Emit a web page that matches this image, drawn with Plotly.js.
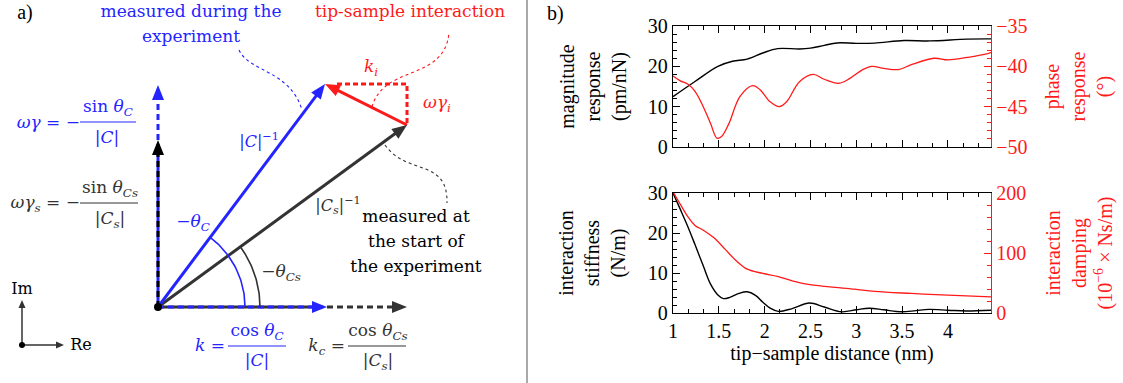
<!DOCTYPE html>
<html><head><meta charset="utf-8">
<script src="https://cdn.plot.ly/plotly-3.0.1.min.js"></script>
<style>html,body{margin:0;padding:0;background:#fff}#chart{width:1123px;height:383px}</style>
</head><body><div id="chart"></div>
<script>
// ---------- data ----------
const magX   = [1.0,1.24,1.49,1.65,1.81,1.98,2.14,2.38,2.5,2.65,2.79,3.0,3.2,3.52,3.8,4.21,4.47];
const magY   = [12.5,16.25,20,21.25,21.8,23.3,24.4,24.3,24.5,25.2,25.8,25.7,25.75,26.4,26.3,26.75,26.8];
const phaseX = [1.0,1.08,1.16,1.24,1.33,1.41,1.48,1.53,1.61,1.73,1.87,1.95,2.06,2.16,2.24,2.38,2.53,2.65,2.81,2.93,3.07,3.17,3.3,3.46,3.6,3.85,4.0,4.21,4.41,4.47];
const phaseY = [-41.2,-41.8,-42.2,-43.1,-45,-47.1,-48.9,-48.7,-47.1,-43.75,-42.4,-42.9,-44.4,-45,-44.4,-41.9,-41,-41.6,-42.1,-41.5,-40.4,-40,-40.25,-40.4,-39.8,-39,-39.2,-38.9,-38.5,-38.25];
const stiffX = [1.0,1.08,1.16,1.24,1.33,1.41,1.49,1.55,1.62,1.72,1.81,1.9,1.98,2.06,2.15,2.3,2.49,2.65,2.84,3.0,3.14,3.3,3.49,3.65,3.79,4.0,4.2,4.47];
const stiffY = [30,25.9,21.7,17.1,11.8,7.2,4.5,3.6,3.9,4.9,5.3,4.4,2.7,1.2,0.4,1.1,2.5,1.5,0.3,0.8,1.2,0.8,0.3,0.6,0.9,0.7,0.5,0.7];
const dampX  = [1.0,1.08,1.16,1.24,1.33,1.45,1.57,1.69,1.81,1.98,2.14,2.3,2.46,2.71,2.98,3.2,3.6,4.0,4.47];
const dampY  = [202,181,161,146,138,125,106,87,73,66,61,53.6,48,43.6,39.8,36,32.6,29.8,27];

// schematic vectors (diagram units, origin at the black dot)
const vecC    = [167, 223];   // |C|^-1 (blue)
const vecCs   = [249, 182];   // |Cs|^-1 (dark grey)
const kBlue   = 169, kBlack = 249;     // real-axis projections
const gBlue   = 222, gBlack = 167;     // imaginary-axis projections

// ---------- constants ----------
const W = 1123, H = 383, OX = 158, OY = 307;
const BLUE = '#2424ff', RED = '#ff1a1a', GREY = '#333333';
const SERIF = 'Liberation Serif, Times New Roman, serif';
const DSERIF = 'DejaVu Serif, serif';

const traces = [];
const shapes = [];

// ---------- panel b traces ----------
traces.push({x: magX, y: magY, xaxis:'x', yaxis:'y', mode:'lines', line:{color:'black', width:1.4, shape:'spline'}, hoverinfo:'skip'});
traces.push({x: phaseX, y: phaseY, xaxis:'x', yaxis:'y2', mode:'lines', line:{color:RED, width:1.3, shape:'spline'}, hoverinfo:'skip'});
traces.push({x: stiffX, y: stiffY, xaxis:'x2', yaxis:'y3', mode:'lines', line:{color:'black', width:1.4, shape:'spline'}, hoverinfo:'skip'});
traces.push({x: dampX, y: dampY, xaxis:'x2', yaxis:'y4', mode:'lines', line:{color:RED, width:1.3, shape:'spline'}, hoverinfo:'skip'});

// ---------- panel a helpers ----------
function seg(p0, p1, color, width, dash, shorten) {
  let [x0,y0] = p0, [x1,y1] = p1;
  if (shorten) {
    const L = Math.hypot(x1-x0, y1-y0);
    x1 = x1 - (x1-x0)/L*shorten; y1 = y1 - (y1-y0)/L*shorten;
  }
  traces.push({x:[x0,x1], y:[y0,y1], xaxis:'x3', yaxis:'y5', mode:'lines',
    line:{color, width, dash: dash || 'solid'}, hoverinfo:'skip'});
}
// filled triangular arrowhead, tip at p1, pointing along p0->p1
function head(p0, p1, color, len, hw) {
  const dx = p1[0]-p0[0], dy = p1[1]-p0[1], L = Math.hypot(dx,dy);
  const ux = dx/L, uy = dy/L;
  const bx = p1[0]-ux*len, by = p1[1]-uy*len;
  const a = [bx - uy*hw, by + ux*hw], b = [bx + uy*hw, by - ux*hw];
  shapes.push({type:'path', xref:'x3', yref:'y5', layer:'above',
    path:`M ${p1[0]},${p1[1]} L ${a[0]},${a[1]} L ${b[0]},${b[1]} Z`,
    fillcolor:color, line:{width:0}});
}
const O = [0,0];
const DASH = '6px,4px';
const HL = 15, HW = 6;

// vertical (imaginary) dashed arrows
seg(O, [0,gBlack-4], BLUE, 3);
seg(O, [0,gBlack], 'black', 3, DASH, HL-2);
seg([0,gBlack], [0,gBlue], BLUE, 3, DASH, HL-2);
head(O, [0,gBlue], BLUE, HL, HW);
head(O, [0,gBlack], 'black', HL, HW);
// horizontal (real) dashed arrows
seg(O, [kBlue-4,0], GREY, 3);
seg(O, [kBlue,0], BLUE, 3, DASH, HL-2);
seg([kBlue,0], [kBlack,0], GREY, 3, DASH, HL-2);
head(O, [kBlack,0], GREY, HL, HW);
head(O, [kBlue,0], BLUE, HL, HW);
// main vectors
seg(O, vecCs, GREY, 3, null, HL-3);  head(O, vecCs, GREY, HL, HW);
seg(O, vecC, BLUE, 3, null, HL-3);   head(O, vecC, BLUE, HL, HW);
// red dashed right-angle
traces.push({x:[vecC[0]+12, vecCs[0], vecCs[0]], y:[vecC[1], vecC[1], vecCs[1]], xaxis:'x3', yaxis:'y5',
  mode:'lines', line:{color:RED, width:3, dash:'5px,3px'}, hoverinfo:'skip'});
seg(vecCs, vecC, RED, 3, null, HL-3); head(vecCs, vecC, RED, HL, HW);
// angle arcs
function arc(r, vec, color) {
  const a1 = Math.atan2(vec[1], vec[0]); const xs=[], ys=[];
  for (let i=0;i<=40;i++){ const a=a1*i/40; xs.push(r*Math.cos(a)); ys.push(r*Math.sin(a)); }
  traces.push({x:xs, y:ys, xaxis:'x3', yaxis:'y5', mode:'lines', line:{color, width:1.6}, hoverinfo:'skip'});
}
arc(87, vecC, BLUE);
arc(102, vecCs, GREY);
// origin dot
traces.push({x:[0], y:[0], xaxis:'x3', yaxis:'y5', mode:'markers', marker:{color:'black', size:8}, hoverinfo:'skip'});
// Im / Re mini axes (pixel positions converted)
const D = (px,py) => [px-OX, OY-py];
seg(D(22,345), D(22,300), GREY, 1.5, null, 6); head(D(22,345), D(22,300), GREY, 8, 3.5);
seg(D(22,345), D(64,345), GREY, 1.5, null, 6); head(D(22,345), D(64,345), GREY, 8, 3.5);
traces.push({x:[D(22,345)[0]], y:[D(22,345)[1]], xaxis:'x3', yaxis:'y5', mode:'markers', marker:{color:'black', size:6}, hoverinfo:'skip'});

// dotted connectors
function curve(pts, color) {
  const q = pts.map(p => D(p[0],p[1]));
  shapes.push({type:'path', xref:'x3', yref:'y5',
    path:`M ${q[0][0]},${q[0][1]} C ${q[1][0]},${q[1][1]} ${q[2][0]},${q[2][1]} ${q[3][0]},${q[3][1]}`,
    line:{color, width:1.1, dash:'dot'}});
}
curve([[239,50],[249,72],[290,70],[302,110]], BLUE);
curve([[372,107],[384,64],[444,82],[449,33]], RED);
curve([[385,145],[407,176],[448,158],[447,203]], GREY);

// ---------- texts (drawn as text traces in the diagram's pixel frame) ----------
function txt(px, py, text, color, size, pos, family) {
  const p = D(px, py);
  traces.push({x:[p[0]], y:[p[1]], xaxis:'x3', yaxis:'y5', mode:'text', text:[text],
    textposition: pos || 'middle center', cliponaxis:false,
    textfont:{family: family || DSERIF, size, color}, hoverinfo:'skip'});
}
function bar(x0, x1, py, color) {
  const a = D(x0, py), b = D(x1, py);
  traces.push({x:[a[0], b[0]], y:[a[1], b[1]], xaxis:'x3', yaxis:'y5', mode:'lines', line:{color, width:1.2}, hoverinfo:'skip'});
}
txt(25, 14, 'a)', 'black', 20, null, SERIF);
txt(191, 13, 'measured during the', BLUE, 17);
txt(191, 38, 'experiment', BLUE, 17);
txt(410, 13, 'tip-sample interaction', RED, 17);
txt(371, 68, '<i>k<sub>i</sub></i>', RED, 17);
txt(437, 104, '<i>ωγ<sub>i</sub></i>', RED, 17);
txt(259, 143, '|<i>C</i>|<sup>−1</sup>', BLUE, 16);
txt(338, 207, '|<i>C</i><sub><i>s</i></sub>|<sup>−1</sup>', GREY, 16);
txt(416, 218, 'measured at', 'black', 17);
txt(416, 243, 'the start of', 'black', 17);
txt(416, 268, 'the experiment', 'black', 17);
txt(193, 223, '−<i>θ</i><sub><i>C</i></sub>', BLUE, 17);
txt(281, 273, '−<i>θ</i><sub><i>Cs</i></sub>', GREY, 17);
txt(22, 290, 'Im', 'black', 16);
txt(81, 346, 'Re', 'black', 16);
// left formulas
txt(80, 124, '<i>ωγ</i> = −', BLUE, 17, 'middle left');
txt(108, 108, 'sin <i>θ</i><sub><i>C</i></sub>', BLUE, 17);
bar(80, 136, 122, BLUE);
txt(107, 139, '|<i>C</i>|', BLUE, 17);
txt(80, 204, '<i>ωγ<sub>s</sub></i> = −', GREY, 17, 'middle left');
txt(110, 189, 'sin <i>θ</i><sub><i>Cs</i></sub>', GREY, 17);
bar(80, 138, 203, GREY);
txt(110, 220, '|<i>C</i><sub><i>s</i></sub>|', GREY, 17);
// bottom formulas
txt(225, 347, '<i>k</i> =', BLUE, 17, 'middle left');
txt(257, 332, 'cos <i>θ</i><sub><i>C</i></sub>', BLUE, 17);
bar(228, 286, 346, BLUE);
txt(257, 362, '|<i>C</i>|', BLUE, 17);
txt(345, 347, '<i>k<sub>c</sub></i> =', GREY, 17, 'middle left');
txt(378, 332, 'cos <i>θ</i><sub><i>Cs</i></sub>', GREY, 17);
bar(348, 406, 346, GREY);
txt(378, 362, '|<i>C</i><sub><i>s</i></sub>|', GREY, 17);

// divider
shapes.push({type:'line', xref:'paper', yref:'paper', x0:527/W, x1:527/W, y0:0, y1:1, line:{color:'#555', width:1}});

// ---------- axes ----------
const XD = [673/W, 991/W];
const YT = [1-147/H, 1-26/H];
const YB = [1-313/H, 1-193/H];
const tf = (c) => ({family:SERIF, size:20, color:c});
const common = {showgrid:false, zeroline:false, ticks:'inside', ticklen:7, tickwidth:1, showline:true, linewidth:1.2, fixedrange:true};
const xCommon = Object.assign({}, common, {domain:XD, range:[1,4.47], dtick:0.5, tick0:1, linecolor:'black', tickcolor:'black', mirror:'ticks',
  minor:{dtick:1/6, tick0:1, ticks:'inside', ticklen:4, tickcolor:'black'}, tickfont:tf('black')});

const layout = {
  width:W, height:H, margin:{l:0,r:0,t:0,b:0}, paper_bgcolor:'white', plot_bgcolor:'rgba(0,0,0,0)',
  showlegend:false, font:{family:SERIF, size:20, color:'black'},
  xaxis: Object.assign({}, xCommon, {anchor:'y', showticklabels:false}),
  xaxis2: Object.assign({}, xCommon, {anchor:'y3', title:{text:'tip−sample distance (nm)', font:tf('black'), standoff:4}}),
  yaxis: Object.assign({}, common, {domain:YT, anchor:'x', range:[0,30], dtick:10, linecolor:'black', tickcolor:'black',
    minor:{dtick:2, ticks:'inside', ticklen:4, tickcolor:'black'}, tickfont:tf('black'),
    title:{text:'magnitude<br>response<br>(pm/nN)', font:tf('black'), standoff:15}}),
  yaxis2: Object.assign({}, common, {overlaying:'y', side:'right', anchor:'x', range:[-50,-35], dtick:5, linecolor:RED, tickcolor:RED,
    minor:{dtick:1, ticks:'inside', ticklen:4, tickcolor:RED}, tickfont:tf(RED),
    title:{text:'phase<br>response<br>(°)', font:tf(RED), standoff:18}}),
  yaxis3: Object.assign({}, common, {domain:YB, anchor:'x2', range:[0,30], dtick:10, linecolor:'black', tickcolor:'black',
    minor:{dtick:2, ticks:'inside', ticklen:4, tickcolor:'black'}, tickfont:tf('black'),
    title:{text:'interaction<br>stiffness<br>(N/m)', font:tf('black'), standoff:16}}),
  yaxis4: Object.assign({}, common, {overlaying:'y3', side:'right', anchor:'x2', range:[0,200], dtick:100, linecolor:RED, tickcolor:RED,
    minor:{dtick:20, ticks:'inside', ticklen:4, tickcolor:RED}, tickfont:tf(RED),
    title:{text:'interaction<br>damping<br>(10<sup>−6</sup> × Ns/m)', font:tf(RED), standoff:20}}),
  xaxis3: {domain:[0, 527/W], anchor:'y5', range:[-OX, 527-OX], visible:false, fixedrange:true},
  yaxis5: {domain:[0,1], anchor:'x3', range:[-(H-OY), OY], visible:false, fixedrange:true},
  annotations: [{x:555/W, y:1-14/H, xref:'paper', yref:'paper', text:'b)', showarrow:false,
    font:{family:SERIF, size:20, color:'black'}, xanchor:'center', yanchor:'middle'}],
  shapes: shapes
};
Plotly.newPlot('chart', traces, layout, {staticPlot:true, displayModeBar:false});
</script></body></html>
